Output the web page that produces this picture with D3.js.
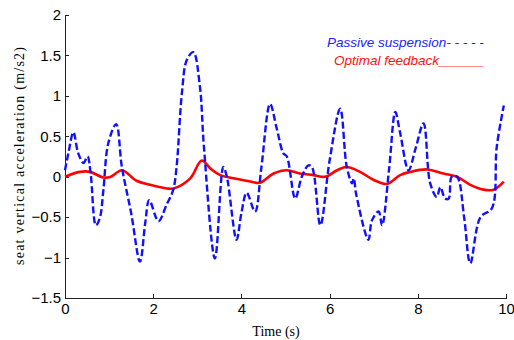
<!DOCTYPE html>
<meta charset="utf-8">
<style>
body { margin: 0; background: #fff; }
.tick text { font-family: "Liberation Sans", Arial, sans-serif; font-size: 15px; fill: #000; }
.axis path, .axis line { stroke: #222; shape-rendering: crispEdges; }
.title { font-family: "Liberation Serif", "Times New Roman", serif; font-size: 14px; fill: #000; }
.legend { font-family: "Liberation Sans", Arial, sans-serif; font-size: 13.5px; font-style: italic; }
</style>
<body>
<div id="chart"></div>
<script src="https://d3js.org/d3.v7.min.js"></script>
<script>

// passive suspension (blue dashed)
var passiveT = [0, 0.08, 0.19, 0.30, 0.42, 0.51, 0.58, 0.70, 0.79, 0.87, 0.98, 1.16, 1.29, 1.50, 1.70, 1.82, 1.91, 2.12, 2.30, 2.45, 2.53, 2.65, 2.76, 2.91, 3.06, 3.15, 3.40, 3.59, 3.67, 3.89, 4.00, 4.12, 4.31, 4.45, 4.65, 4.80, 4.95, 5.03, 5.22, 5.37, 5.52, 5.60, 5.79, 6.00, 6.24, 6.39, 6.51, 6.55, 6.60, 6.88, 6.96, 7.11, 7.19, 7.35, 7.49, 7.60, 7.79, 7.95, 8.13, 8.28, 8.43, 8.51, 8.62, 8.70, 8.77, 8.89, 9.05, 9.19, 9.42, 9.68, 9.79, 9.95];
var passiveV = [0.08, 0.30, 0.55, 0.29, 0.17, 0.25, 0.05, -0.60, -0.51, -0.17, 0.41, 0.65, 0.12, -0.45, -1.05, -0.57, -0.29, -0.55, -0.35, -0.17, 0.12, 1.03, 1.44, 1.54, 1.11, 0.37, -1.01, 0.12, 0.00, -0.78, -0.45, -0.20, -0.43, 0.10, 0.90, 0.60, 0.29, 0.25, -0.27, 0.00, 0.14, 0.12, -0.60, 0.20, 0.84, 0.12, -0.08, -0.02, -0.21, -0.78, -0.54, -0.43, -0.60, 0.10, 0.80, 0.54, 0.08, 0.35, 0.66, -0.08, -0.25, -0.13, -0.27, -0.27, 0.00, 0.00, -0.50, -1.07, -0.50, -0.39, 0.37, 0.88];

// optimal feedback (red solid)
var optimalT = [0, 0.34, 0.57, 0.87, 1.04, 1.29, 1.62, 1.93, 2.31, 2.46, 2.84, 3.10, 3.30, 3.52, 3.82, 4.20, 4.42, 4.73, 5.03, 5.33, 5.63, 5.90, 6.17, 6.39, 6.69, 7.00, 7.30, 7.60, 7.83, 8.21, 8.58, 8.89, 9.19, 9.49, 9.72, 9.95];
var optimalV = [0.00, 0.06, 0.06, -0.01, 0.00, 0.08, -0.05, -0.10, -0.145, -0.145, -0.02, 0.20, 0.10, 0.02, -0.02, -0.06, -0.075, 0.04, 0.08, 0.04, 0.02, 0.00, 0.08, 0.12, 0.06, -0.04, -0.09, 0.02, 0.06, 0.09, 0.04, 0.00, -0.10, -0.16, -0.16, -0.06];

var xTicks = [0, 2, 4, 6, 8, 10];
var yTicks = [-1.5, -1, -0.5, 0, 0.5, 1, 1.5, 2];

var width = 514, height = 340;
var svg = d3.select("#chart").append("svg").attr("width", width).attr("height", height);

var x = d3.scaleLinear().domain([0, 10]).range([65, 506]);
var y = d3.scaleLinear().domain([-1.5, 2]).range([298, 15]);

svg.append("g").attr("class", "axis")
    .attr("transform", "translate(0,298)")
    .call(d3.axisBottom(x).tickValues(xTicks).tickSizeInner(-4).tickSizeOuter(0).tickPadding(5).tickFormat(d3.format("")));

svg.append("g").attr("class", "axis")
    .attr("transform", "translate(65,0)")
    .call(d3.axisLeft(y).tickValues(yTicks).tickSizeInner(-4).tickSizeOuter(0).tickPadding(4).tickFormat(d3.format("")));

svg.selectAll(".axis .domain").attr("stroke-width", 1);

var line = d3.line()
    .x(d => x(d[0]))
    .y(d => y(d[1]))
    .curve(d3.curveCatmullRom.alpha(0.5));

svg.append("path")
    .datum(optimalT.map((t, i) => [t, optimalV[i]]))
    .attr("d", line)
    .attr("fill", "none")
    .attr("stroke", "#ff0000")
    .attr("stroke-width", 2.6);

svg.append("path")
    .datum(passiveT.map((t, i) => [t, passiveV[i]]))
    .attr("d", line)
    .attr("fill", "none")
    .attr("stroke", "#1010ff")
    .attr("stroke-width", 2.4)
    .attr("stroke-dasharray", "7,3");

// axis titles
svg.append("text").attr("class", "title")
    .attr("x", 276).attr("y", 336)
    .attr("text-anchor", "middle")
    .attr("font-size", 13)
    .text("Time (s)");

svg.append("text").attr("class", "title")
    .attr("transform", "translate(24,156) rotate(-90)")
    .attr("text-anchor", "middle")
    .attr("textLength", 218)
    .attr("lengthAdjust", "spacing")
    .text("seat vertical acceleration (m/s2)");

// legend
svg.append("text").attr("class", "legend")
    .attr("x", 327).attr("y", 47)
    .attr("fill", "#2222ff")
    .text("Passive suspension- - - - -");

svg.append("text").attr("class", "legend")
    .attr("x", 334).attr("y", 65)
    .attr("fill", "#ff1010")
    .text("Optimal feedback______");

</script>
</body>
</html>
